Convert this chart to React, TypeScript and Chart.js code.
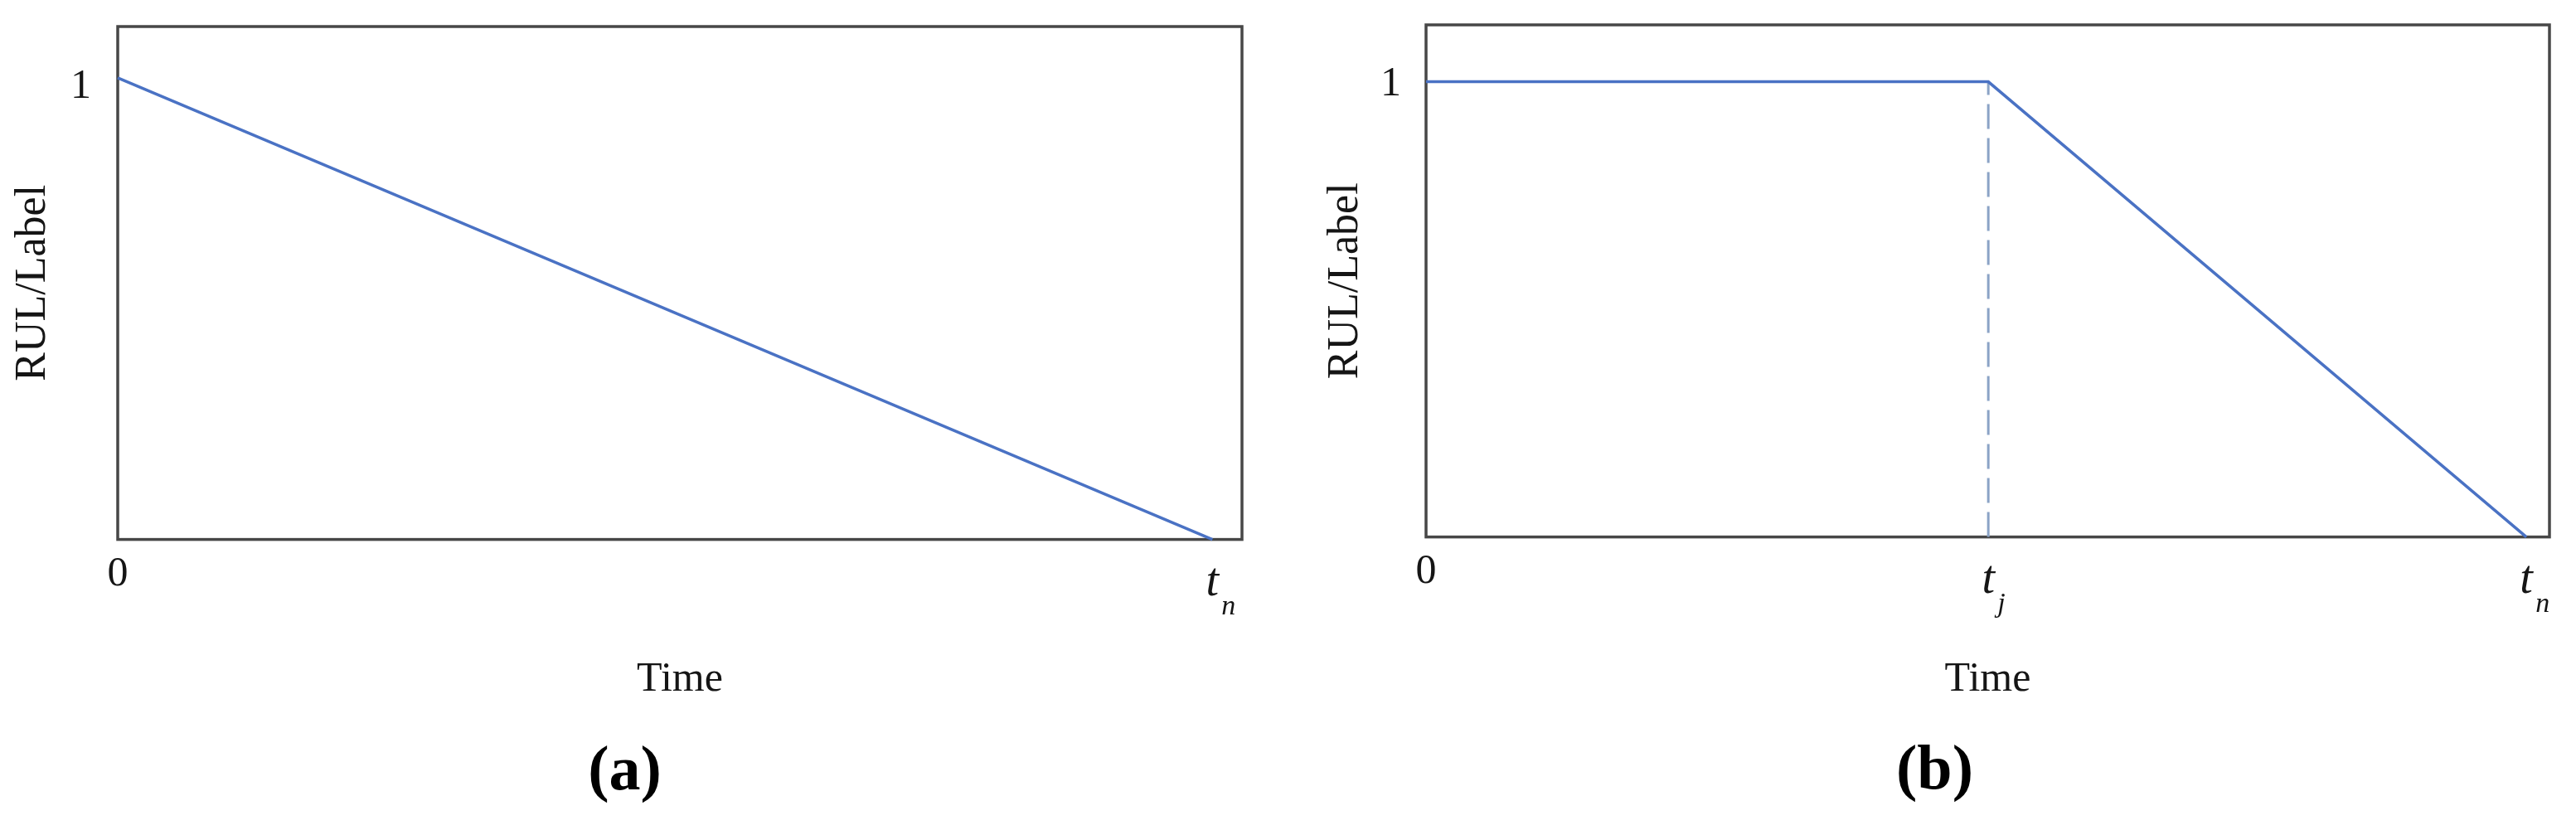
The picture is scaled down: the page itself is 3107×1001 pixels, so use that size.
import React, { useEffect, useRef } from 'react';
import { Chart, registerables } from 'chart.js';

Chart.register(...registerables);

// ---------- data ----------
const TIME_A = [0, 1];
const RUL_A = [1, 0];

const TJ = 0.511;
const TIME_B = [0, TJ, 1];
const RUL_B = [1, 1, 0];
const DASH_TIME_B = [TJ, TJ];
const DASH_RUL_B = [0, 1];

const X_TICKS_A = [0, 1];
const X_LABELS_A = ['0', 't'];
const X_SUBS_A = ['', 'n'];

const X_TICKS_B = [0, TJ, 1];
const X_LABELS_B = ['0', 't', 't'];
const X_SUBS_B = ['', 'j', 'n'];

const Y_TICKS = [1];
const Y_LABELS = ['1'];

const X_TITLE = 'Time';
const Y_TITLE = 'RUL/Label';
const PANEL_A = '(a)';
const PANEL_B = '(b)';

// ---------- styles ----------
const SERIF = '"Liberation Serif", "Times New Roman", serif';
const TEXT = '#151515';
const LINE_BLUE = '#4a72c4';
const DASH_BLUE = '#8ba3c6';
const FRAME = '#474747';

const framePlugin = {
  id: 'frame',
  beforeDatasetsDraw(chart: any) {
    const { ctx, chartArea } = chart;
    ctx.save();
    ctx.strokeStyle = FRAME;
    ctx.lineWidth = 3.5;
    ctx.strokeRect(chartArea.left, chartArea.top, chartArea.right - chartArea.left, chartArea.bottom - chartArea.top);
    ctx.restore();
  },
};

const subscriptPlugin = {
  id: 'subscripts',
  afterDraw(chart: any, _args: any, opts: any) {
    const subs: string[] = opts.subs || [];
    const vals: number[] = opts.values || [];
    const xs = chart.scales.x;
    const ctx = chart.ctx;
    ctx.save();
    ctx.fillStyle = TEXT;
    ctx.font = `italic 34px ${SERIF}`;
    ctx.textAlign = 'left';
    ctx.textBaseline = 'alphabetic';
    subs.forEach((s, i) => {
      if (!s) return;
      const px = xs.getPixelForValue(vals[i]);
      ctx.fillText(s, px + opts.dx, xs.top + opts.dy);
    });
    ctx.restore();
  },
};

type PanelSpec = {
  datasets: any[];
  xTicks: number[];
  xLabels: string[];
  xSubs: string[];
  xMax: number;
  yMax: number;
  padLeft: number;
  padRight: number;
  padTop: number;
  padBottom: number;
  yWidth: number;
  xHeight: number;
  yTickPad: number;
  yLabelOffset: number;
  yTitleSize: number;
  panel: string;
  panelPadTop: number;
};

function makeConfig(p: PanelSpec): any {
  return {
    type: 'line',
    data: { datasets: p.datasets },
    plugins: [framePlugin, subscriptPlugin],
    options: {
      responsive: false,
      animation: false,
      devicePixelRatio: 1,
      events: [],
      layout: { padding: { left: p.padLeft, right: p.padRight, top: p.padTop, bottom: p.padBottom } },
      scales: {
        x: {
          type: 'linear',
          min: 0,
          max: p.xMax,
          grid: { display: false, drawTicks: false },
          border: { display: false },
          afterBuildTicks: (s: any) => {
            s.ticks = p.xTicks.map((v) => ({ value: v }));
          },
          afterFit: (s: any) => {
            s.height = p.xHeight;
            s.paddingLeft = 0;
            s.paddingRight = 0;
          },
          ticks: {
            autoSkip: false,
            maxRotation: 0,
            padding: 12,
            color: TEXT,
            callback: (_v: any, i: number) => p.xLabels[i],
            font: (c: any) =>
              c.tick && c.tick.value !== 0
                ? { family: SERIF, size: 56, style: 'italic', lineHeight: 1.45 }
                : { family: SERIF, size: 50, lineHeight: 1.2 },
          },
          title: {
            display: true,
            text: X_TITLE,
            color: TEXT,
            font: { family: SERIF, size: 50, lineHeight: 1.2 },
            padding: 0,
          },
        },
        y: {
          type: 'linear',
          min: 0,
          max: p.yMax,
          grid: { display: false, drawTicks: false },
          border: { display: false },
          afterBuildTicks: (s: any) => {
            s.ticks = Y_TICKS.map((v) => ({ value: v }));
          },
          afterFit: (s: any) => {
            s.width = p.yWidth;
            s.paddingTop = 0;
            s.paddingBottom = 0;
          },
          ticks: {
            autoSkip: false,
            padding: p.yTickPad,
            labelOffset: p.yLabelOffset,
            color: TEXT,
            callback: (_v: any, i: number) => Y_LABELS[i],
            font: { family: SERIF, size: 50, lineHeight: 1.2 },
          },
          title: {
            display: true,
            text: Y_TITLE,
            color: TEXT,
            font: { family: SERIF, size: p.yTitleSize, lineHeight: 1.2 },
            padding: 0,
          },
        },
      },
      plugins: {
        legend: { display: false },
        tooltip: { enabled: false },
        title: {
          display: true,
          text: p.panel,
          position: 'bottom',
          color: '#000',
          font: { family: SERIF, size: 76, weight: 'bold', lineHeight: 1.2 },
          padding: { top: p.panelPadTop, bottom: 0 },
        },
        subscripts: { subs: p.xSubs, values: p.xTicks, dx: 11, dy: 90 },
      } as any,
    },
  };
}

const lineStyle = { borderColor: LINE_BLUE, borderWidth: 3.5, pointRadius: 0, tension: 0, clip: false, fill: false };

const specA: PanelSpec = {
  datasets: [
    { label: 'RUL', data: TIME_A.map((x, i) => ({ x, y: RUL_A[i] })), ...lineStyle },
  ],
  xTicks: X_TICKS_A,
  xLabels: X_LABELS_A,
  xSubs: X_SUBS_A,
  xMax: 1.027,
  yMax: 1.111,
  padLeft: 9,
  padRight: 55,
  padTop: 32,
  padBottom: 22.6,
  yWidth: 133,
  xHeight: 199,
  yTickPad: 32,
  yLabelOffset: 11,
  yTitleSize: 52,
  panel: PANEL_A,
  panelPadTop: 37.6,
};

const specB: PanelSpec = {
  datasets: [
    { label: 'RUL', data: TIME_B.map((x, i) => ({ x, y: RUL_B[i] })), ...lineStyle },
    {
      label: 'tj',
      data: DASH_TIME_B.map((x, i) => ({ x, y: DASH_RUL_B[i] })),
      ...lineStyle,
      borderColor: DASH_BLUE,
      borderWidth: 3,
      borderDash: [30, 11],
    },
  ],
  xTicks: X_TICKS_B,
  xLabels: X_LABELS_B,
  xSubs: X_SUBS_B,
  xMax: 1.021,
  yMax: 1.125,
  padLeft: 39,
  padRight: 32,
  padTop: 30,
  padBottom: 23.6,
  yWidth: 128,
  xHeight: 202,
  yTickPad: 30,
  yLabelOffset: 3,
  yTitleSize: 52,
  panel: PANEL_B,
  panelPadTop: 36.6,
};

function Panel({ spec, left, width }: { spec: PanelSpec; left: number; width: number }) {
  const ref = useRef<HTMLCanvasElement | null>(null);
  useEffect(() => {
    if (!ref.current) return;
    const chart = new Chart(ref.current, makeConfig(spec));
    return () => chart.destroy();
  }, [spec]);
  return (
    <canvas
      ref={ref}
      width={width}
      height={1001}
      style={{ position: 'absolute', left, top: 0, width, height: 1001, display: 'block' }}
    />
  );
}

export default function App() {
  return (
    <div style={{ position: 'fixed', left: 0, top: 0, width: 3107, height: 1001, background: '#fff' }}>
      <Panel spec={specA} left={0} width={1553} />
      <Panel spec={specB} left={1553} width={1554} />
    </div>
  );
}
